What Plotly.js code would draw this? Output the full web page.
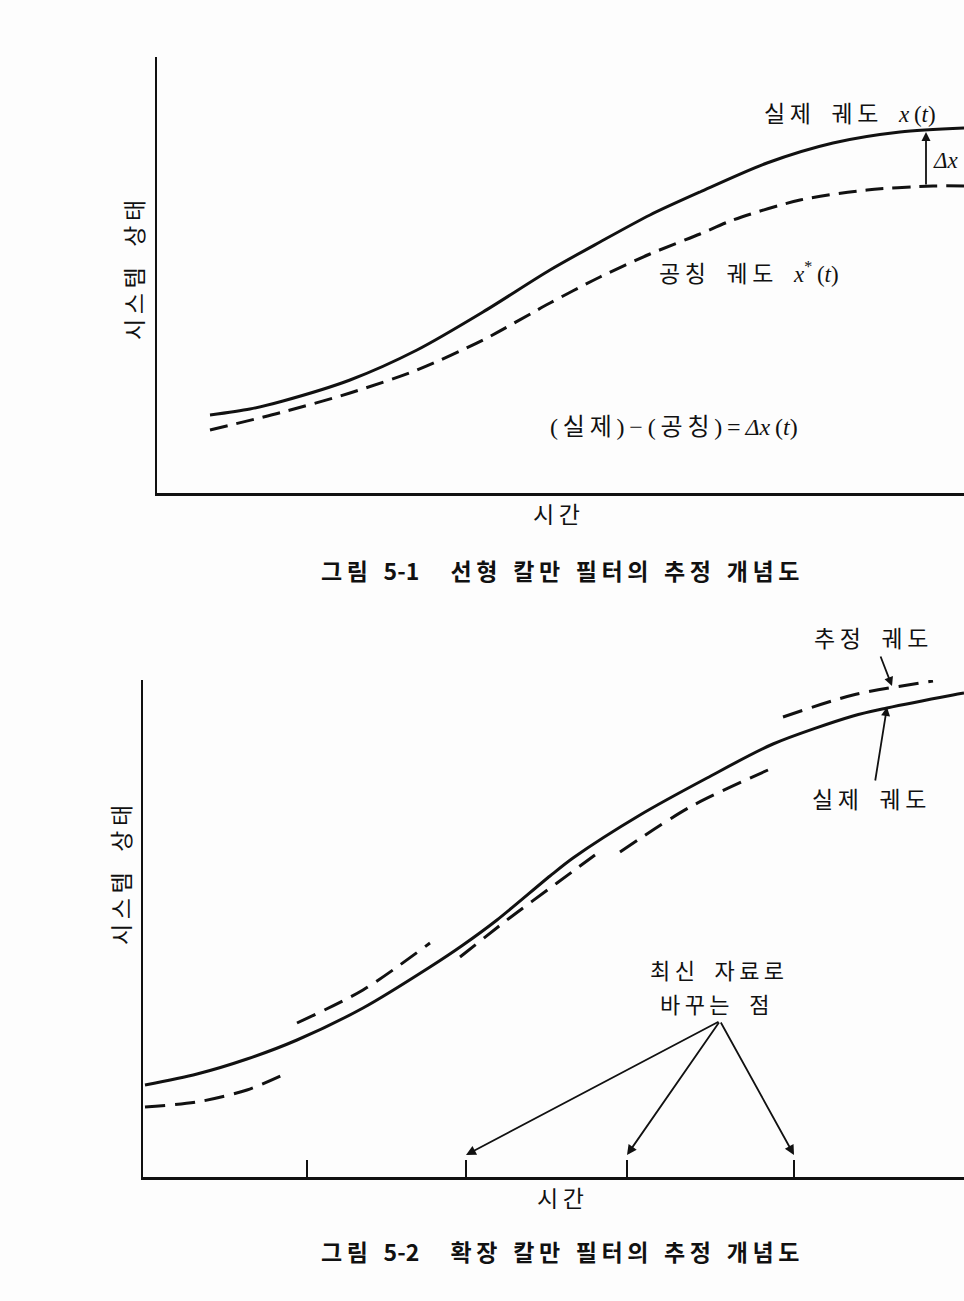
<!DOCTYPE html>
<html><head><meta charset="utf-8">
<script src="https://cdn.plot.ly/plotly-3.0.1.min.js"></script>
<style>html,body{margin:0;padding:0;background:#fff}</style>
</head><body><div id="chart" style="width:964px;height:1301px"></div>
<script>
// ---- Figure 5-1 (linear Kalman filter) : time vs system state (arbitrary units)
const fig1Time      = [53, 93, 126, 193, 260, 326, 393, 443, 493, 543, 610, 676, 743, 807];
const fig1Actual    = [78, 84, 92, 113, 143, 181, 223, 251, 278, 301, 330, 350, 361, 365];
const fig1NomTime   = [53, 126, 193, 260, 326, 393, 443, 493, 543, 576, 643, 710, 776, 807];
const fig1Nominal   = [63, 81, 100, 123, 153, 190, 216, 239, 259, 273, 293, 303, 307, 307];

// ---- Figure 5-2 (extended Kalman filter)
const fig2Time   = [2, 54, 104, 154, 220, 287, 320, 354, 407, 430, 497, 564, 630, 710, 744, 810, 821];
const fig2Actual = [92, 103, 118, 137, 169, 210, 232, 257, 301, 319, 362, 399, 433, 461, 469, 482, 484];
const estSegTime = [[2, 54, 104, 142], [154, 220, 287], [317, 364, 414, 452], [477, 547, 625], [640, 710, 790]];
const estSegVal  = [[70, 75, 87, 103], [154, 187, 234], [220, 257, 294, 322], [325, 370, 407], [460, 482, 496]];
const updateTimes = [164, 323, 484, 651];

const W = 964, H = 1301;
const px = v => v / W, py = v => 1 - v / H;
const INK = '#111';
const KR = '"Noto Sans CJK KR", "Noto Sans", sans-serif';
const SERIF = "'Liberation Serif', 'DejaVu Serif', serif";
const S = n => '\u00a0'.repeat(n);

const traces = [
  {x: fig1Time, y: fig1Actual, xaxis: 'x', yaxis: 'y', mode: 'lines', line: {color: INK, width: 3, shape: 'spline', smoothing: 0.8}, hoverinfo: 'skip'},
  {x: fig1NomTime, y: fig1Nominal, xaxis: 'x', yaxis: 'y', mode: 'lines', line: {color: INK, width: 3, dash: '18px,9px', shape: 'spline', smoothing: 0.8}, hoverinfo: 'skip'},
  {x: fig2Time, y: fig2Actual, xaxis: 'x2', yaxis: 'y2', mode: 'lines', line: {color: INK, width: 3, shape: 'spline', smoothing: 0.8}, hoverinfo: 'skip'}
];
estSegTime.forEach((t, i) => traces.push({x: t, y: estSegVal[i], xaxis: 'x2', yaxis: 'y2', mode: 'lines',
  line: {color: INK, width: 3, dash: '20px,10px', shape: 'spline', smoothing: 0.8}, hoverinfo: 'skip'}));

const ax = (dom, rng, extra) => Object.assign({domain: dom, range: rng, showgrid: false, zeroline: false,
  showticklabels: false, ticks: '', showline: false, fixedrange: true}, extra || {});

const textAnn = (x, y, text, size, extra) => Object.assign({xref: 'paper', yref: 'paper', x: px(x), y: py(y),
  text: text, showarrow: false, font: {family: KR, size: size, color: INK}, xanchor: 'center', yanchor: 'middle'}, extra || {});

const it = s => '<span style="font-family:' + SERIF + '"><i>' + s + '</i></span>';
const rp = s => '<span style="font-family:' + SERIF + '">' + s + '</span>';
const spaced = s => s.split('').join('\u2009');

const annotations = [
  // figure 1
  textAnn(850, 112, spaced('실제') + S(4) + spaced('궤도') + S(4) + it('x') + rp('\u2009(') + it('t') + rp(')'), 23),
  textAnn(749, 272, spaced('공칭') + S(4) + spaced('궤도') + S(4) + it('x') + rp('<sup>*</sup>\u2009(') + it('t') + rp(')'), 23),
  textAnn(674, 424, rp('(\u2009') + spaced('실제') + rp('\u2009)\u2009−\u2009(\u2009') + spaced('공칭') + rp('\u2009)\u2009=\u2009') + it('Δx') + rp('\u2009(') + it('t') + rp(')'), 24),
  textAnn(931, 160, it('Δx'), 23, {xanchor: 'left'}),
  {xref: 'x', yref: 'y', axref: 'x', ayref: 'y', x: 769, y: 361, ax: 769, ay: 307, showarrow: true,
   arrowhead: 2, arrowsize: 1, arrowwidth: 1.8, arrowcolor: INK, text: ''},
  textAnn(556, 513, spaced('시간'), 23),
  textAnn(133, 270, spaced('시스템') + S(4) + spaced('상태'), 23, {textangle: -90}),
  textAnn(560, 570, '<b>' + spaced('그림') + S(3) + '5-1' + S(6) + spaced('선형') + S(3) + spaced('칼만') + S(3) + spaced('필터의') + S(3) + spaced('추정') + S(3) + spaced('개념도') + '</b>', 23),
  // figure 2
  textAnn(871, 637, spaced('추정') + S(4) + spaced('궤도'), 23),
  {xref: 'paper', yref: 'paper', axref: 'pixel', ayref: 'pixel', x: px(892), y: py(686), ax: -12, ay: -31,
   showarrow: true, arrowhead: 2, arrowsize: 1, arrowwidth: 1.8, arrowcolor: INK, text: ''},
  textAnn(869, 798, spaced('실제') + S(4) + spaced('궤도'), 23),
  {xref: 'paper', yref: 'paper', x: px(887), y: py(707), ax: -12, ay: 75,
   showarrow: true, arrowhead: 2, arrowsize: 1, arrowwidth: 1.8, arrowcolor: INK, text: ''},
  textAnn(717, 969, spaced('최신') + S(4) + spaced('자료로'), 22),
  textAnn(714, 1003, spaced('바꾸는') + S(4) + '점', 22),
  textAnn(560, 1197, spaced('시간'), 23),
  textAnn(120, 875, spaced('시스템') + S(4) + spaced('상태'), 23, {textangle: -90}),
  textAnn(560, 1251, '<b>' + spaced('그림') + S(3) + '5-2' + S(6) + spaced('확장') + S(3) + spaced('칼만') + S(3) + spaced('필터의') + S(3) + spaced('추정') + S(3) + spaced('개념도') + '</b>', 23)
];
// arrows from the "update points" label to each update tick
const apex = [720, 1021];
updateTimes.slice(1).forEach(t => {
  const tipX = 143 + t, tipY = 1177 - 22;
  annotations.push({xref: 'x2', yref: 'y2', x: t, y: 22, axref: 'pixel', ayref: 'pixel',
    ax: apex[0] - tipX, ay: apex[1] - tipY, showarrow: true, arrowhead: 2, arrowsize: 1.1,
    arrowwidth: 1.8, arrowcolor: INK, text: ''});
});

const layout = {
  width: W, height: H, margin: {l: 0, r: 0, t: 0, b: 0},
  paper_bgcolor: '#fdfdfd', plot_bgcolor: 'rgba(0,0,0,0)', showlegend: false,
  xaxis: ax([157 / W, 1], [0, 807], {showline: true, linewidth: 2.5, linecolor: INK, anchor: 'y'}),
  yaxis: ax([py(493), py(57)], [0, 436], {showline: true, linewidth: 2.5, linecolor: INK, anchor: 'x'}),
  xaxis2: ax([143 / W, 1], [0, 821], {showline: true, linewidth: 2.5, linecolor: INK, anchor: 'y2',
    tickvals: updateTimes, ticks: 'inside', ticklen: 17, tickwidth: 2, tickcolor: INK}),
  yaxis2: ax([py(1177), py(680)], [0, 497], {showline: true, linewidth: 2.5, linecolor: INK, anchor: 'x2'}),
  annotations: annotations
};

Plotly.newPlot('chart', traces, layout, {displayModeBar: false, staticPlot: true});
</script></body></html>
